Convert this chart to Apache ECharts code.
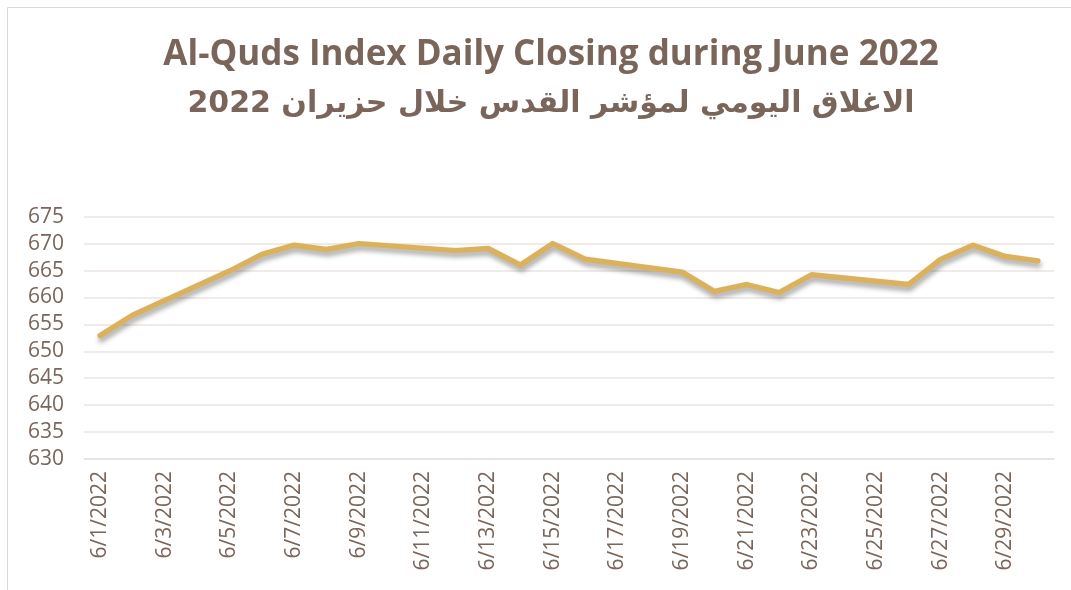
<!DOCTYPE html>
<html>
<head>
<meta charset="utf-8">
<script src="https://cdn.jsdelivr.net/npm/echarts@6/dist/echarts.min.js"></script>
<style>
  html, body { margin: 0; padding: 0; background: #fff; }
  #chart { width: 1071px; height: 590px; }
</style>
</head>
<body>
<div id="chart"></div>
<script>
// every calendar day of June 2022 (date axis)
const days = [];
for (let d = 1; d <= 30; d++) days.push('6/' + d + '/2022');

// daily closing, null on non-trading days (Fri/Sat)
const closing = [
  652.9, 656.7, null, null, 664.9, 668.0, 669.7, 668.9, 670.0, null,
  null, 668.7, 669.1, 666.0, 670.0, 667.1, null, null, 664.7, 661.1,
  662.4, 660.9, 664.2, null, null, 662.4, 667.1, 669.7, 667.6, 666.8
];

const yTicks = { min: 630, max: 675, step: 5 };

const textColor = '#7a655a';
const chart = echarts.init(document.getElementById('chart'));

const option = {
  backgroundColor: '#ffffff',
  animation: false,
  title: [
    {
      text: 'Al-Quds Index Daily Closing during June 2022',
      left: 546,
      top: 33,
      textAlign: 'center',
      textStyle: { color: textColor, fontSize: 35, fontWeight: 'bold', fontFamily: 'Open Sans' }
    },
    {
      text: 'الاغلاق اليومي لمؤشر القدس خلال حزيران 2022',
      left: 546,
      top: 84,
      textAlign: 'center',
      textStyle: { color: textColor, fontSize: 30, fontWeight: 'bold', fontFamily: 'DejaVu Sans' }
    }
  ],
  graphic: [
    {
      type: 'rect',
      shape: { x: 7.5, y: 7.5, width: 1080, height: 600 },
      style: { fill: 'none', stroke: '#d9d9d9', lineWidth: 1 },
      silent: true
    }
  ],
  grid: { left: 84, right: 17, top: 216.7, bottom: 131, containLabel: false },
  xAxis: {
    type: 'category',
    data: days,
    boundaryGap: true,
    axisLine: { lineStyle: { color: '#e8e2de', width: 1.5 } },
    axisTick: { interval: 1, length: 6, lineStyle: { color: '#e8e2de', width: 1.5 } },
    axisLabel: {
      interval: 1,
      rotate: 90,
      color: textColor,
      fontSize: 21,
      fontFamily: 'Open Sans',
      margin: 12
    },
    splitLine: { show: false }
  },
  yAxis: {
    type: 'value',
    min: yTicks.min,
    max: yTicks.max,
    interval: yTicks.step,
    axisLine: { show: false },
    axisTick: { show: false },
    axisLabel: { color: textColor, fontSize: 21, fontFamily: 'Open Sans', margin: 20 },
    splitLine: { lineStyle: { color: '#ebe5e1', width: 1.5 } }
  },
  series: [
    {
      type: 'line',
      data: closing,
      connectNulls: true,
      showSymbol: false,
      symbol: 'none',
      lineStyle: {
        color: '#dab25e',
        width: 5.5,
        cap: 'round',
        join: 'round',
        shadowColor: 'rgba(0,0,0,0.35)',
        shadowBlur: 5,
        shadowOffsetX: 1,
        shadowOffsetY: 4
      }
    }
  ]
};

chart.setOption(option);
</script>
</body>
</html>
